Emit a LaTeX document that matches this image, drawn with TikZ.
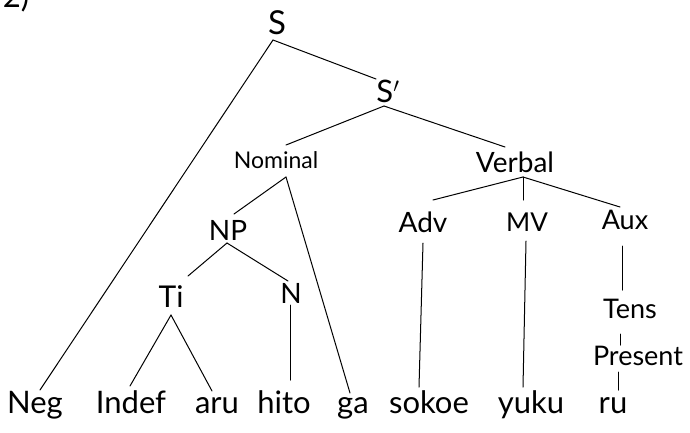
\documentclass[tikz,border=0pt]{standalone}
\usepackage{fontspec}
\setmainfont{Lato}
\begin{document}
\begin{tikzpicture}[x=1pt,y=-1pt,
  lab/.style={inner sep=0pt, anchor=base, font=\fontsize{27}{30}\selectfont},
  word/.style={inner sep=0pt, anchor=base, font=\fontsize{31}{34}\selectfont},
  br/.style={line width=1pt, line cap=round}]
\useasboundingbox (0,0) rectangle (690,432);
\clip (0,0) rectangle (690,432);
\node[word] (num) at (16,7) {2)};
% labels
\node[lab, font=\fontsize{33}{34}\selectfont] (S) at (277,34) {S};
\node[lab, font=\fontsize{31}{32}\selectfont] (Sp) at (388,102) {S$'$};
\node[lab, font=\fontsize{23}{26}\selectfont] (Nom) at (276,168) {Nominal};
\node[lab, font=\fontsize{28}{30}\selectfont] (Verb) at (515,172) {Verbal};
\node[lab, font=\fontsize{28}{30}\selectfont] (NP) at (228,240) {NP};
\node[lab, font=\fontsize{30}{30}\selectfont] (Ti) at (171,307) {Ti};
\node[lab, font=\fontsize{28}{30}\selectfont] (N) at (291,303) {N};
\node[lab, font=\fontsize{28}{30}\selectfont] (Adv) at (423,232) {Adv};
\node[lab, font=\fontsize{26}{30}\selectfont] (MV) at (527,231) {MV};
\node[lab, font=\fontsize{27}{30}\selectfont] (Aux) at (625,229) {Aux};
\node[lab] (Tens) at (630,318) {Tens};
\node[lab] (Pres) at (638,365) {Present};
% words
\node[word] (Neg) at (35,413) {Neg};
\node[word] (Indef) at (131,413) {Indef};
\node[word] (aru) at (217,413) {aru};
\node[word] (hito) at (284,413) {hito};
\node[word] (ga) at (353,413) {ga};
\node[word] (sokoe) at (429,413) {sokoe};
\node[word] (yuku) at (531,413) {yuku};
\node[word] (ru) at (613,413) {ru};
% connector ends
\coordinate (S-b) at (273,40);
\coordinate (Sp-t) at (376,79);
\coordinate (Sp-b) at (384,106);
\coordinate (Nom-t) at (286,145);
\coordinate (Nom-b) at (286,177);
\coordinate (Verb-t) at (505,147);
\coordinate (Verb-b) at (523,177);
\coordinate (NP-t) at (234,214);
\coordinate (NP-b) at (227,243);
\coordinate (Ti-t) at (188,276);
\coordinate (Ti-b) at (171,315);
\coordinate (N-t) at (288,281);
\coordinate (N-b) at (290,305);
\coordinate (Adv-t) at (433,200);
\coordinate (Adv-b) at (423,243);
\coordinate (MV-t) at (523,200);
\coordinate (MV-b) at (526,241);
\coordinate (Aux-t) at (620,207);
\coordinate (Aux-b) at (622,246);
\coordinate (Tens-t) at (622,290);
\coordinate (Tens-b) at (620,334);
\coordinate (Pres-t) at (620,345);
\coordinate (Pres-b) at (618,372);
\coordinate (Neg-t) at (40,390);
\coordinate (Indef-t) at (130,386);
\coordinate (aru-t) at (212,391);
\coordinate (hito-t) at (290,380);
\coordinate (ga-t) at (350,393);
\coordinate (sokoe-t) at (419,387);
\coordinate (yuku-t) at (523,387);
\coordinate (ru-t) at (618,390);
% branches
\draw[br] (S-b) -- (Neg-t);
\draw[br] (S-b) -- (Sp-t);
\draw[br] (Sp-b) -- (Nom-t);
\draw[br] (Sp-b) -- (Verb-t);
\draw[br] (Nom-b) -- (NP-t);
\draw[br] (Nom-b) -- (ga-t);
\draw[br] (NP-b) -- (Ti-t);
\draw[br] (NP-b) -- (N-t);
\draw[br] (Ti-b) -- (Indef-t);
\draw[br] (Ti-b) -- (aru-t);
\draw[br] (N-b) -- (hito-t);
\draw[br] (Verb-b) -- (Adv-t);
\draw[br] (Verb-b) -- (MV-t);
\draw[br] (Verb-b) -- (Aux-t);
\draw[br] (Adv-b) -- (sokoe-t);
\draw[br] (MV-b) -- (yuku-t);
\draw[br] (Aux-b) -- (Tens-t);
\draw[br] (Tens-b) -- (Pres-t);
\draw[br] (Pres-b) -- (ru-t);
\end{tikzpicture}
\end{document}
